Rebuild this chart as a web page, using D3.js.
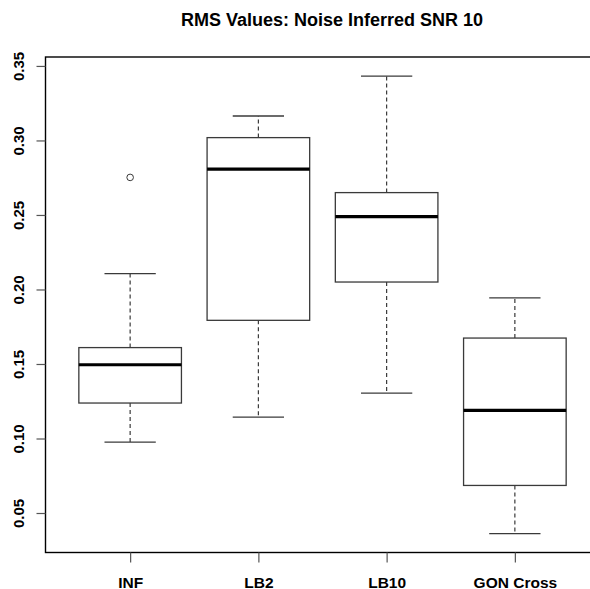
<!DOCTYPE html>
<html>
<head>
<meta charset="utf-8">
<script src="https://cdn.jsdelivr.net/npm/d3@7/dist/d3.min.js"></script>
<style>
  html, body { margin: 0; padding: 0; background: #fff; }
  svg { display: block; }
  text { font-family: "Liberation Sans", Arial, sans-serif; font-weight: bold; fill: #000; }
</style>
</head>
<body>
<svg id="chart" width="590" height="589"></svg>
<script>
// RMS values per method (box-plot summaries)
const categories   = ["INF", "LB2", "LB10", "GON Cross"];
const whiskerLow   = [0.0975, 0.1144, 0.1305, 0.0361];
const quartile1    = [0.1238, 0.1793, 0.2050, 0.0685];
const medians      = [0.1495, 0.2807, 0.2489, 0.1189];
const quartile3    = [0.1610, 0.3019, 0.2650, 0.1674];
const whiskerHigh  = [0.2106, 0.3164, 0.3431, 0.1943];
const outlierGroup = [1];
const outlierValue = [0.2752];
const yTicks       = [0.05, 0.10, 0.15, 0.20, 0.25, 0.30, 0.35];

const svg = d3.select("#chart");

const plot = { left: 45.5, right: 599.5, top: 57, bottom: 552.5 };

const x = d3.scaleLinear().domain([0.34, 4.66]).range([plot.left, plot.right]);
const y = d3.scaleLinear().domain([0.0235, 0.356]).range([plot.bottom, plot.top]);

const boxHalf = 0.4, capHalf = 0.2;
const lineColor = "#3a3a3a";

const groups = categories.map((c, i) => ({
  name: c, pos: i + 1,
  lo: whiskerLow[i], q1: quartile1[i], med: medians[i], q3: quartile3[i], hi: whiskerHigh[i]
}));

const g = svg.append("g");

// whiskers (dashed)
g.selectAll(".whisker-up").data(groups).join("line")
  .attr("x1", d => x(d.pos)).attr("x2", d => x(d.pos))
  .attr("y1", d => y(d.q3)).attr("y2", d => y(d.hi))
  .attr("stroke", lineColor).attr("stroke-width", 1.2).attr("stroke-dasharray", "4,3");
g.selectAll(".whisker-down").data(groups).join("line")
  .attr("x1", d => x(d.pos)).attr("x2", d => x(d.pos))
  .attr("y1", d => y(d.q1)).attr("y2", d => y(d.lo))
  .attr("stroke", lineColor).attr("stroke-width", 1.2).attr("stroke-dasharray", "4,3");

// staples
g.selectAll(".cap-hi").data(groups).join("line")
  .attr("x1", d => x(d.pos - capHalf)).attr("x2", d => x(d.pos + capHalf))
  .attr("y1", d => y(d.hi)).attr("y2", d => y(d.hi))
  .attr("stroke", lineColor).attr("stroke-width", 1.3);
g.selectAll(".cap-lo").data(groups).join("line")
  .attr("x1", d => x(d.pos - capHalf)).attr("x2", d => x(d.pos + capHalf))
  .attr("y1", d => y(d.lo)).attr("y2", d => y(d.lo))
  .attr("stroke", lineColor).attr("stroke-width", 1.3);

// boxes
g.selectAll(".box").data(groups).join("rect")
  .attr("x", d => x(d.pos - boxHalf))
  .attr("width", d => x(d.pos + boxHalf) - x(d.pos - boxHalf))
  .attr("y", d => y(d.q3))
  .attr("height", d => y(d.q1) - y(d.q3))
  .attr("fill", "#fff").attr("stroke", lineColor).attr("stroke-width", 1.3);

// medians
g.selectAll(".median").data(groups).join("line")
  .attr("x1", d => x(d.pos - boxHalf)).attr("x2", d => x(d.pos + boxHalf))
  .attr("y1", d => y(d.med)).attr("y2", d => y(d.med))
  .attr("stroke", "#000").attr("stroke-width", 3.2);

// outliers
g.selectAll(".outlier").data(outlierValue).join("circle")
  .attr("cx", (d, i) => x(outlierGroup[i]))
  .attr("cy", d => y(d))
  .attr("r", 3.3)
  .attr("fill", "none").attr("stroke", lineColor).attr("stroke-width", 1);

// frame
svg.append("rect")
  .attr("x", plot.left).attr("y", plot.top)
  .attr("width", plot.right - plot.left).attr("height", plot.bottom - plot.top)
  .attr("fill", "none").attr("stroke", "#000").attr("stroke-width", 1.4);

// y axis
const yAxis = svg.append("g")
  .attr("transform", `translate(${plot.left},0)`)
  .call(d3.axisLeft(y).tickValues(yTicks).tickSize(9).tickFormat(d3.format(".2f")));
yAxis.select(".domain").remove();
yAxis.selectAll(".tick line").attr("stroke", "#555").attr("stroke-width", 1.2);
yAxis.selectAll(".tick text")
  .attr("x", 0).attr("dy", 0)
  .attr("transform", "translate(-21.5,0) rotate(-90)")
  .attr("text-anchor", "middle")
  .style("font-size", "15px")
  .style("font-family", "\"Liberation Sans\", Arial, sans-serif")
  .style("font-weight", "bold")
  .attr("fill", "#000");

// x axis
const xAxis = svg.append("g")
  .attr("transform", `translate(0,${plot.bottom})`)
  .call(d3.axisBottom(x).tickValues(groups.map(d => d.pos)).tickSize(10)
    .tickFormat(p => categories[p - 1]));
xAxis.select(".domain").remove();
xAxis.selectAll(".tick line").attr("stroke", "#555").attr("stroke-width", 1.2);
xAxis.selectAll(".tick text")
  .attr("y", 35).attr("dy", 0)
  .style("font-size", "15.5px")
  .style("font-family", "\"Liberation Sans\", Arial, sans-serif")
  .style("font-weight", "bold")
  .attr("fill", "#000");

// title
svg.append("text")
  .attr("x", 332).attr("y", 25.5)
  .attr("text-anchor", "middle")
  .style("font-size", "18px")
  .text("RMS Values: Noise Inferred SNR 10");
</script>
</body>
</html>
